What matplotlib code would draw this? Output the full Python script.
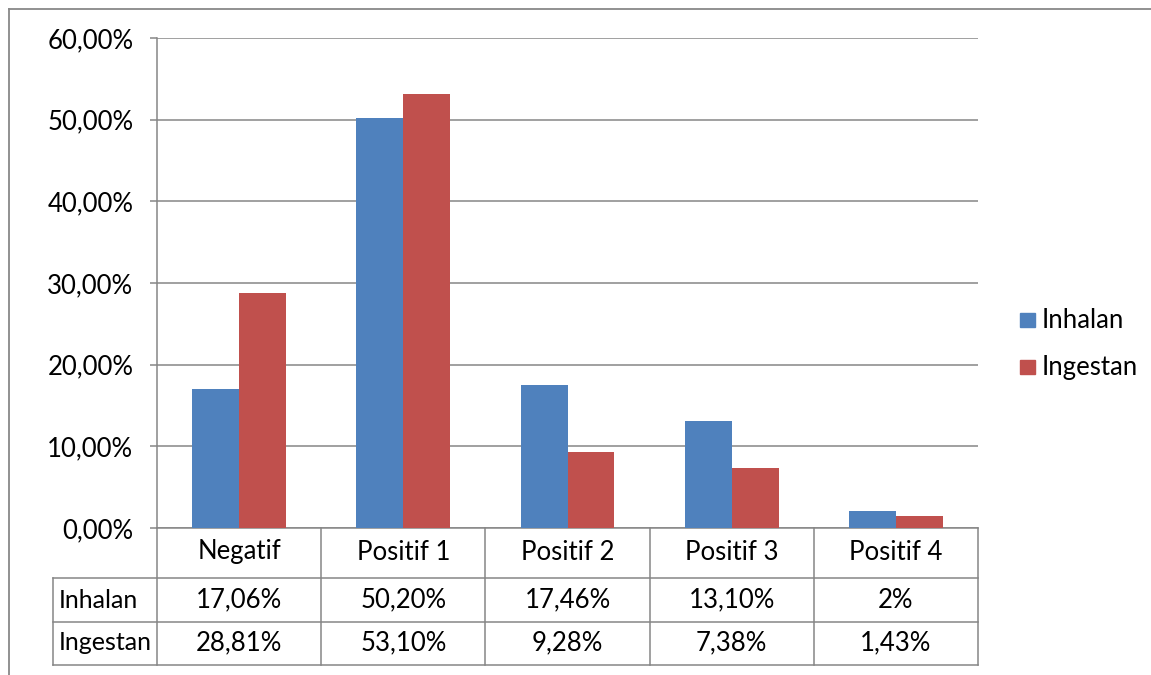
import matplotlib
matplotlib.use("Agg")
import matplotlib.pyplot as plt
import matplotlib.transforms as mtransforms
from matplotlib.lines import Line2D
from matplotlib.patches import Rectangle

categories = ["Negatif", "Positif 1", "Positif 2", "Positif 3", "Positif 4"]
series_names = ["Inhalan", "Ingestan"]
inhalan = [17.06, 50.20, 17.46, 13.10, 2.08]
ingestan = [28.81, 53.10, 9.28, 7.38, 1.43]
inhalan_labels = ["17,06%", "50,20%", "17,46%", "13,10%", "2%"]
ingestan_labels = ["28,81%", "53,10%", "9,28%", "7,38%", "1,43%"]
yticks = [0, 10, 20, 30, 40, 50, 60]
ytick_labels = ["0,00%", "10,00%", "20,00%", "30,00%", "40,00%", "50,00%", "60,00%"]

colors = ["#4F81BD", "#C0504D"]
grid_c = "#868686"
font = "Lato"
fs = 18.5

W, H = 1151, 675
fig = plt.figure(figsize=(W / 100, H / 100), dpi=100)
plt.rcParams['font.family'] = [font, 'DejaVu Sans']

def fx(px):
    return px / W

def fy(py):
    return 1 - py / H

x0, x1, y0, y1 = 157, 978, 38, 528
ax = fig.add_axes([fx(x0), fy(y1), fx(x1) - fx(x0), fy(y0) - fy(y1)])

n = len(categories)
bw = 0.286
xs = list(range(n))
lw = 1.1
ax.bar([x - bw / 2 for x in xs], inhalan, width=bw, color=colors[0], label=series_names[0], zorder=3)
ax.bar([x + bw / 2 for x in xs], ingestan, width=bw, color=colors[1], label=series_names[1], zorder=3)
ax.set_xlim(-0.5, n - 0.5)
ax.set_ylim(0, 60)
ax.set_yticks(yticks)
ax.set_yticklabels(ytick_labels, fontsize=fs, family=font)
ax.set_xticks([])
ax.yaxis.grid(True, color=grid_c, linewidth=lw, zorder=0)
ax.set_axisbelow(True)
for s in ["top", "right"]:
    ax.spines[s].set_visible(False)
for s in ["left", "bottom"]:
    ax.spines[s].set_color(grid_c)
    ax.spines[s].set_linewidth(lw)
ax.tick_params(axis="y", length=5, width=lw, color=grid_c, pad=12)

# Data table
bt = mtransforms.blended_transform_factory(ax.transData, fig.transFigure)
for yy in [578, 622, 665]:
    fig.add_artist(Line2D([fx(53), fx(978)], [fy(yy), fy(yy)], color=grid_c, lw=lw))
fig.add_artist(Line2D([fx(53), fx(53)], [fy(578), fy(665)], color=grid_c, lw=lw))
for b in [i - 0.5 for i in range(n + 1)]:
    fig.add_artist(Line2D([b, b], [fy(528), fy(665)], color=grid_c, lw=lw, transform=bt))

for i, c in enumerate(categories):
    fig.text(i, fy(552), c, transform=bt, ha="center", va="center", fontsize=fs, family=font)
    fig.text(i, fy(600), inhalan_labels[i], transform=bt, ha="center", va="center", fontsize=fs, family=font)
    fig.text(i, fy(643), ingestan_labels[i], transform=bt, ha="center", va="center", fontsize=fs, family=font)
fig.text(fx(59), fy(600), series_names[0], ha="left", va="center", fontsize=fs - 0.5, family=font)
fig.text(fx(59), fy(643), series_names[1], ha="left", va="center", fontsize=fs - 0.5, family=font)

# Legend
for k, (name, yy) in enumerate(zip(series_names, [320, 367])):
    fig.add_artist(Rectangle((fx(1020), fy(yy + 7)), fx(15), fy(yy - 7) - fy(yy + 7), color=colors[k]))
    fig.text(fx(1042), fy(yy), name, ha="left", va="center", fontsize=fs, family=font)

# Outer chart border
fig.add_artist(Line2D([fx(8.5), fx(8.5)], [fy(8.5), 0], color="#888888", lw=1.3))
fig.add_artist(Line2D([fx(8.5), 1], [fy(8.5), fy(8.5)], color="#888888", lw=1.3))

fig.savefig("out.png", dpi=100)
